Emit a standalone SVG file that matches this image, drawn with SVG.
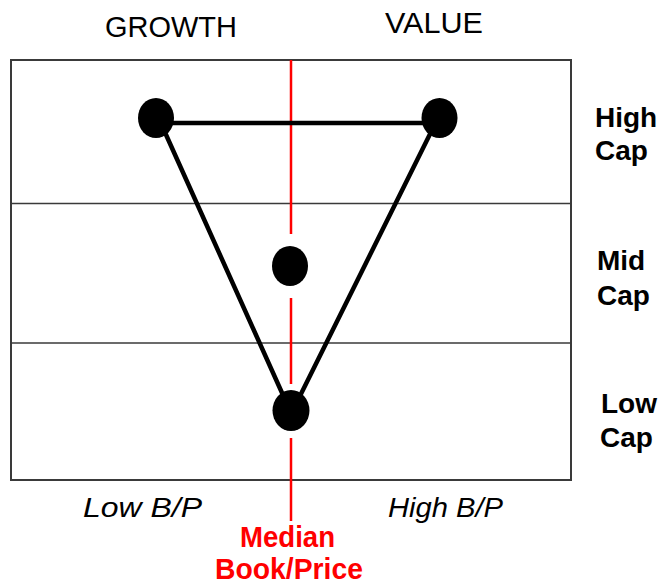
<svg xmlns="http://www.w3.org/2000/svg" width="663" height="586" viewBox="0 0 663 586">
<style>
.lbl{font-family:"Liberation Sans",Arial,sans-serif;fill:#000}
.top{font-size:29px}
.cap{font-size:28px;font-weight:bold}
.bp{font-size:28px;font-style:italic}
.red{font-family:"Liberation Sans",Arial,sans-serif;font-size:29px;font-weight:bold;fill:#ff0000}
.frame{fill:none;stroke:#3a3a3a;stroke-width:2}
.div{stroke:#3a3a3a;stroke-width:1.5}
.median{stroke:#ff0000;stroke-width:2.5}
.edge{stroke:#000;stroke-width:4.5;stroke-linecap:round}
.dot{fill:#000}
</style>
<rect width="663" height="586" fill="#fff"/>
<g id="grid">
<rect class="frame" x="11" y="60" width="560" height="420"/>
<line class="div" x1="11" y1="203.5" x2="571" y2="203.5"/>
<line class="div" x1="11" y1="343" x2="571" y2="343"/>
</g>
<g id="median-line">
<line class="median" x1="291" y1="60" x2="291" y2="234"/>
<line class="median" x1="291" y1="298" x2="291" y2="384"/>
<line class="median" x1="291" y1="438" x2="291" y2="521"/>
</g>
<g id="connectors">
<line class="edge" x1="156" y1="123" x2="439" y2="123"/>
<line class="edge" x1="163" y1="128" x2="287" y2="404"/>
<line class="edge" x1="433" y1="128" x2="296" y2="404"/>
</g>
<g id="node-high-growth"><ellipse class="dot" cx="156" cy="118" rx="18" ry="20"/></g>
<g id="node-high-value"><ellipse class="dot" cx="439.5" cy="118" rx="18" ry="20"/></g>
<g id="node-mid"><ellipse class="dot" cx="290" cy="266" rx="18" ry="20"/></g>
<g id="node-low"><ellipse class="dot" cx="291" cy="410.5" rx="18.5" ry="20.5"/></g>
<g id="labels">
<text class="lbl top" x="105" y="37" textLength="132" lengthAdjust="spacingAndGlyphs">GROWTH</text>
<text class="lbl top" x="385" y="33" textLength="98" lengthAdjust="spacingAndGlyphs">VALUE</text>
<text class="lbl cap" x="595" y="127">High</text>
<text class="lbl cap" x="595" y="160">Cap</text>
<text class="lbl cap" x="597" y="270">Mid</text>
<text class="lbl cap" x="597" y="305">Cap</text>
<text class="lbl cap" x="601" y="413">Low</text>
<text class="lbl cap" x="600" y="447">Cap</text>
<text class="lbl bp" x="83" y="517" textLength="119" lengthAdjust="spacingAndGlyphs">Low B/P</text>
<text class="lbl bp" x="388" y="517" textLength="115" lengthAdjust="spacingAndGlyphs">High B/P</text>
<text class="red" x="240" y="547" textLength="95" lengthAdjust="spacingAndGlyphs">Median</text>
<text class="red" x="215" y="579" textLength="148" lengthAdjust="spacingAndGlyphs">Book/Price</text>
</g>
</svg>
